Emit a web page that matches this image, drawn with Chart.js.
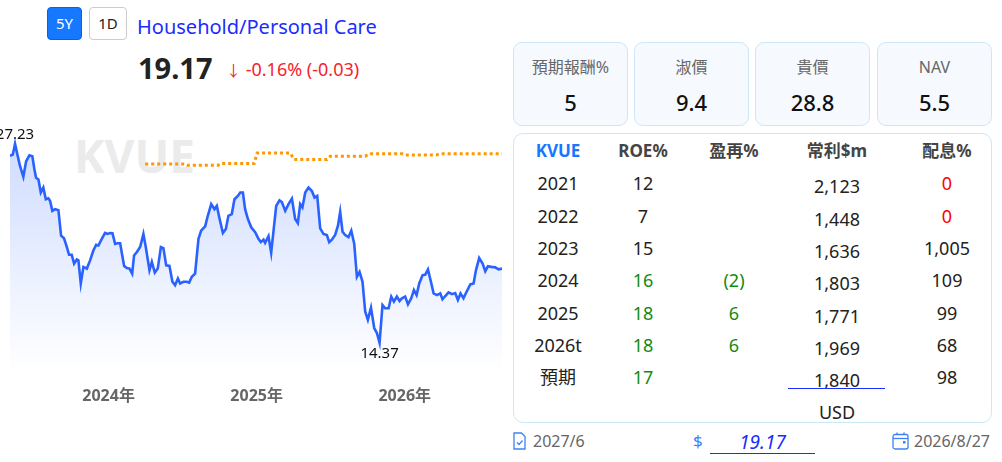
<!DOCTYPE html>
<html>
<head>
<meta charset="utf-8">
<script src="https://cdn.jsdelivr.net/npm/chart.js@4.4.1/dist/chart.umd.min.js"></script>
<style>
  body { margin: 0; width: 1002px; height: 462px; overflow: hidden; background: #fff; position: relative;
         font-family: 'Noto Sans', 'Noto Sans CJK TC', sans-serif; color: #222; }
  .abs { position: absolute; }
  .btn { position: absolute; top: 7px; height: 33px; box-sizing: border-box; border-radius: 4px;
         font-size: 15px; line-height: 31px; text-align: center; }
  .watermark { position: absolute; left: 74px; top: 124px; font-size: 46px; font-weight: bold; color: #ebebeb; }
  #chartBox { position: absolute; left: 0; top: 120px; width: 510px; height: 317px; }
  .card { position: absolute; top: 42px; height: 84px; width: 115px; box-sizing: border-box;
          border: 1.5px solid #cce8f8; border-radius: 9px; background: #f6f9fe; text-align: center; }
  .card .t { position: absolute; top: 13px; width: 100%; font-size: 16px; line-height: 22px; color: #666; }
  .card .v { position: absolute; top: 44px; width: 100%; font-size: 22px; line-height: 30px; color: #111; font-weight: 500; }
  #table { position: absolute; left: 513px; top: 133px; width: 479px; height: 290px; box-sizing: border-box;
           border: 1.5px solid #cce8f8; border-radius: 10px; }
  .cell { position: absolute; transform: translate(-50%, -50%); white-space: nowrap; font-size: 18px; line-height: 24px; }
  .head { font-size: 17px; font-weight: bold; color: #444; }
  .foot { position: absolute; top: 430px; font-size: 16px; line-height: 22px; color: #666; }
</style>
</head>
<body>

<div class="btn" style="left:47px;width:35px;background:#1677ff;color:#fff;border:1px solid #0f5fd6;">5Y</div>
<div class="btn" style="left:89px;width:38px;background:#fff;color:#222;border:1px solid #ccc;">1D</div>
<div class="abs" style="left:137px;top:12px;font-size:20px;line-height:30px;color:#1a2cff;">Household/Personal Care</div>
<div class="abs" style="left:138px;top:48px;font-size:29px;line-height:40px;font-weight:bold;color:#222;">19.17</div>
<div class="abs" style="left:226px;top:55px;font-size:18px;line-height:28px;color:#f5222d;"><span style="font-size:15px;">&#8595;</span> -0.16% (-0.03)</div>

<div class="watermark">KVUE</div>
<div id="chartBox"><canvas id="priceChart"></canvas></div>

<div id="cards"></div>
<div id="table"></div>

<svg class="abs" style="left:513px;top:432px" width="13" height="18" viewBox="0 0 13 18">
  <path d="M1 1 H8.5 L12 4.5 V17 H1 Z" fill="none" stroke="#3b82f6" stroke-width="1.3"/>
  <path d="M4 10.5 L6 12.5 L9.5 8.5" fill="none" stroke="#3b82f6" stroke-width="1.3"/>
</svg>
<div class="foot" style="left:533px;">2027/6</div>
<div class="foot" style="left:693px;color:#3b82f6;font-size:17px;">$</div>
<div class="abs" style="left:710px;top:429px;width:105px;height:24px;border-bottom:1.5px solid #1a2cff;text-align:center;font-style:italic;font-size:19px;line-height:26px;color:#1a2cff;">19.17</div>
<svg class="abs" style="left:892px;top:432px" width="17" height="18" viewBox="0 0 17 18">
  <rect x="1" y="2.5" width="15" height="14.5" rx="2" fill="none" stroke="#3b82f6" stroke-width="1.3"/>
  <line x1="1" y1="6.5" x2="16" y2="6.5" stroke="#3b82f6" stroke-width="1.3"/>
  <line x1="5" y1="0.5" x2="5" y2="3" stroke="#3b82f6" stroke-width="1.3"/>
  <line x1="12" y1="0.5" x2="12" y2="3" stroke="#3b82f6" stroke-width="1.3"/>
  <rect x="11" y="9" width="2.5" height="2.5" fill="#3b82f6"/>
</svg>
<div class="foot" style="left:914px;">2026/8/27</div>

<script>
// weekly-ish closes, x in decimal years
const dates = [
  2023.334, 2023.353, 2023.368, 2023.384, 2023.402, 2023.424, 2023.443, 2023.465, 2023.485, 2023.499,
  2023.510, 2023.526, 2023.542, 2023.559, 2023.576, 2023.593, 2023.605, 2023.620, 2023.639, 2023.661,
  2023.679, 2023.699, 2023.718, 2023.733, 2023.751, 2023.767, 2023.785, 2023.796, 2023.812, 2023.830,
  2023.853, 2023.875, 2023.897, 2023.916, 2023.931, 2023.954, 2023.976, 2023.992, 2024.010, 2024.026,
  2024.044, 2024.059, 2024.078, 2024.096, 2024.105, 2024.123, 2024.141, 2024.159, 2024.172, 2024.191,
  2024.213, 2024.235, 2024.251, 2024.276, 2024.292, 2024.312, 2024.332, 2024.353, 2024.370, 2024.389,
  2024.411, 2024.431, 2024.449, 2024.468, 2024.483, 2024.505, 2024.528, 2024.544, 2024.562, 2024.584,
  2024.607, 2024.625, 2024.652, 2024.670, 2024.693, 2024.715, 2024.731, 2024.749, 2024.772, 2024.792,
  2024.809, 2024.832, 2024.850, 2024.873, 2024.889, 2024.907, 2024.922, 2024.941, 2024.963, 2024.990,
  2025.012, 2025.028, 2025.046, 2025.057, 2025.080, 2025.098, 2025.114, 2025.132, 2025.154, 2025.170,
  2025.193, 2025.215, 2025.238, 2025.260, 2025.278, 2025.294, 2025.309, 2025.328, 2025.350, 2025.373,
  2025.391, 2025.409, 2025.429, 2025.451, 2025.474, 2025.490, 2025.508, 2025.530, 2025.549, 2025.564,
  2025.580, 2025.598, 2025.620, 2025.639, 2025.659, 2025.677, 2025.695, 2025.715, 2025.733, 2025.751,
  2025.772, 2025.794, 2025.812, 2025.830, 2025.850, 2025.868, 2025.891, 2025.909, 2025.927, 2025.947,
  2025.965, 2025.981, 2026.003, 2026.022, 2026.044, 2026.062, 2026.080, 2026.098, 2026.120, 2026.139,
  2026.157, 2026.177, 2026.195, 2026.218, 2026.240, 2026.255, 2026.274, 2026.296, 2026.319, 2026.341,
  2026.359, 2026.377, 2026.397, 2026.420, 2026.443, 2026.465, 2026.481, 2026.503, 2026.526, 2026.544,
  2026.562, 2026.584, 2026.611, 2026.634, 2026.657
];
const prices = [
  26.46, 26.53, 27.23, 26.53, 25.78, 25.10, 26.10, 26.48, 26.42, 25.57,
  25.04, 24.93, 24.08, 24.40, 23.65, 23.71, 23.54, 22.90, 23.01, 22.94,
  21.30, 21.13, 20.56, 20.06, 20.06, 19.49, 19.76, 19.70, 18.21, 19.28,
  19.17, 19.70, 20.34, 20.70, 20.66, 21.09, 21.47, 21.41, 21.47, 21.45,
  20.77, 20.81, 20.81, 19.81, 19.34, 19.21, 19.17, 18.85, 20.02, 20.24,
  20.56, 21.41, 20.56, 19.06, 19.60, 18.91, 19.17, 20.56, 20.49, 19.38,
  19.34, 18.32, 18.10, 18.53, 18.21, 18.32, 18.32, 18.27, 18.64, 18.85,
  21.09, 21.62, 21.90, 22.58, 23.33, 23.01, 23.22, 22.41, 21.47, 21.73,
  22.58, 22.69, 23.65, 23.86, 24.08, 24.08, 23.01, 22.37, 21.84, 21.52,
  21.09, 20.88, 21.04, 20.83, 21.26, 20.19, 21.62, 23.22, 23.58, 23.47,
  22.90, 23.33, 23.69, 22.37, 22.11, 23.33, 23.12, 24.08, 24.40, 24.18,
  23.76, 23.86, 21.77, 21.41, 21.34, 20.88, 21.04, 21.34, 21.94, 22.83,
  21.55, 21.34, 21.20, 21.62, 20.77, 18.64, 18.96, 18.32, 16.40, 15.86,
  16.65, 15.33, 15.01, 14.37, 16.82, 16.61, 16.61, 17.36, 17.04, 17.36,
  17.08, 17.25, 17.36, 16.86, 17.25, 17.78, 17.46, 18.21, 18.74, 18.78,
  19.12, 18.32, 17.57, 17.46, 17.57, 17.19, 17.40, 17.63, 17.52, 17.59,
  17.14, 17.57, 17.25, 17.72, 18.15, 18.21, 19.06, 19.85, 19.49, 19.00,
  19.32, 19.28, 19.25, 19.12, 19.17
];
// orange dotted target line (steps)
const targetDates = [2024.247, 2024.517, 2024.530, 2024.740, 2024.753, 2024.983, 2025.003, 2025.226, 2025.253,
                     2025.476, 2025.497, 2025.733, 2025.760, 2025.983, 2026.003, 2026.213, 2026.240, 2026.657];
const targetPrices = [25.92, 25.92, 25.84, 25.84, 25.95, 25.95, 26.64, 26.64, 26.21,
                      26.21, 26.42, 26.42, 26.59, 26.59, 26.51, 26.51, 26.59, 26.59];
const yearTicks = [2024, 2025, 2026];

const cardTitles = ['預期報酬%', '淑價', '貴價', 'NAV'];
const cardValues = ['5', '9.4', '28.8', '5.5'];

const tableHead = ['KVUE', 'ROE%', '盈再%', '常利$m', '配息%'];
const tableYears = ['2021', '2022', '2023', '2024', '2025', '2026t', '預期'];
const roe = ['12', '7', '15', '16', '18', '18', '17'];
const reinvest = ['', '', '', '(2)', '6', '6', ''];
const profit = ['2,123', '1,448', '1,636', '1,803', '1,771', '1,969', '1,840'];
const payout = ['0', '0', '1,005', '109', '99', '68', '98'];

// ---- cards
const cardLeft = [513, 634, 755, 877];
const cards = document.getElementById('cards');
cardTitles.forEach((t, i) => {
  const d = document.createElement('div');
  d.className = 'card';
  d.style.left = cardLeft[i] + 'px';
  d.innerHTML = '<div class="t">' + t + '</div><div class="v">' + cardValues[i] + '</div>';
  cards.appendChild(d);
});

// ---- table
const table = document.getElementById('table');
const colX = [44, 129, 220, 323, 433];
const rowY = [182, 215, 247, 279, 311.5, 344, 376];
function cell(text, x, y, cls, color) {
  const s = document.createElement('div');
  s.className = 'cell ' + (cls || '');
  s.style.left = x + 'px';
  s.style.top = y + 'px';
  if (color) s.style.color = color;
  s.textContent = text;
  table.appendChild(s);
  return s;
}
tableHead.forEach((h, i) => cell(h, colX[i], 17, 'head', i === 0 ? '#1677ff' : null));
tableYears.forEach((yr, r) => {
  const y = rowY[r] - 133;
  cell(yr, colX[0], y);
  cell(roe[r], colX[1], y, '', Number(roe[r]) >= 16 ? '#138a13' : null);
  if (reinvest[r]) cell(reinvest[r], colX[2], y, '', '#138a13');
  cell(profit[r], colX[3], y + 3);
  cell(payout[r], colX[4], y, '', payout[r] === '0' ? '#ff0000' : null);
});
const ul = document.createElement('div');
ul.className = 'abs';
ul.style.cssText = 'left:274px;top:254px;width:97px;border-top:1.5px solid #1a2cff;';
table.appendChild(ul);
cell('USD', colX[3], 278);

// ---- chart
const ctx = document.getElementById('priceChart');
const pricePoints = dates.map((d, i) => ({ x: d, y: prices[i] }));
const targetPoints = targetDates.map((d, i) => ({ x: d, y: targetPrices[i] }));

const extremeLabels = {
  id: 'extremeLabels',
  afterDatasetsDraw(chart) {
    const meta = chart.getDatasetMeta(0);
    const hi = prices.indexOf(Math.max(...prices));
    const lo = prices.indexOf(Math.min(...prices));
    const c = chart.ctx;
    c.save();
    c.font = '15px "Noto Sans"';
    c.fillStyle = '#111';
    c.textAlign = 'center';
    c.textBaseline = 'bottom';
    c.fillText(prices[hi].toFixed(2), meta.data[hi].x, meta.data[hi].y - 2);
    c.textBaseline = 'top';
    c.fillText(prices[lo].toFixed(2), meta.data[lo].x, meta.data[lo].y + 3);
    c.restore();
  }
};

new Chart(ctx, {
  type: 'line',
  data: {
    datasets: [{
      data: pricePoints,
      borderColor: '#2962ff',
      borderWidth: 2.6,
      pointRadius: 0,
      tension: 0,
      fill: 'start',
      backgroundColor: (context) => {
        const area = context.chart.chartArea;
        if (!area) return 'rgba(41,98,255,0.12)';
        const g = context.chart.ctx.createLinearGradient(0, area.top, 0, area.bottom);
        g.addColorStop(0, 'rgba(41,98,255,0.24)');
        g.addColorStop(1, 'rgba(41,98,255,0)');
        return g;
      }
    }, {
      data: targetPoints,
      borderColor: '#ff9800',
      borderWidth: 3,
      borderDash: [3, 3],
      pointRadius: 0,
      tension: 0,
      fill: false
    }]
  },
  options: {
    responsive: true,
    maintainAspectRatio: false,
    animation: false,
    layout: { padding: { left: 10, right: 8, top: 8, bottom: 15 } },
    plugins: { legend: { display: false }, tooltip: { enabled: false } },
    scales: {
      x: {
        type: 'linear',
        min: dates[0],
        max: dates[dates.length - 1],
        grid: { display: false, drawTicks: false },
        border: { display: false },
        afterBuildTicks: (scale) => { scale.ticks = yearTicks.map(v => ({ value: v })); },
        ticks: {
          padding: 16,
          color: '#666',
          autoSkip: false,
          maxRotation: 0,
          font: { size: 16, weight: 'bold', family: "'Noto Sans', 'Noto Sans CJK TC'" },
          callback: (v) => v + '年'
        }
      },
      y: { display: false, min: 12.57, max: 28.25 }
    }
  },
  plugins: [extremeLabels]
});
</script>
</body>
</html>
